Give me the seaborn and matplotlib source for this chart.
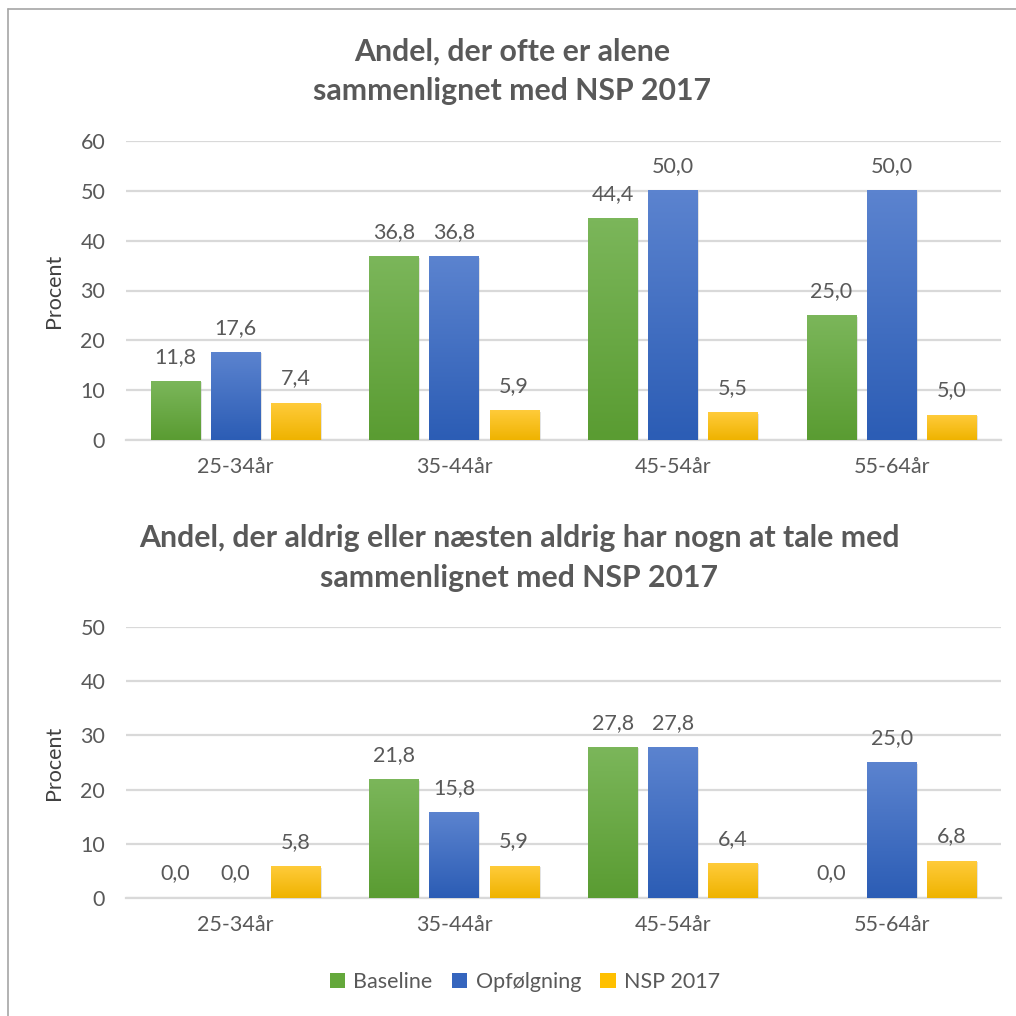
import numpy as np
import pandas as pd
import matplotlib
matplotlib.use("Agg")
import matplotlib.pyplot as plt
import matplotlib.patheffects as pe
from matplotlib.colors import LinearSegmentedColormap
from matplotlib.lines import Line2D
from matplotlib.patches import Patch
import seaborn as sns

# Age groups and series
age_groups = ["25-34år", "35-44år", "45-54år", "55-64år"]
series_names = ["Baseline", "Opfølgning", "NSP 2017"]

# Share who are often alone (%)
alone_baseline = [11.8, 36.8, 44.4, 25.0]
alone_followup = [17.6, 36.8, 50.0, 50.0]
alone_nsp = [7.4, 5.9, 5.5, 5.0]

# Share who never or almost never have someone to talk to (%)
talk_baseline = [0.0, 21.8, 27.8, 0.0]
talk_followup = [0.0, 15.8, 27.8, 25.0]
talk_nsp = [5.8, 5.9, 6.4, 6.8]

top_title = "Andel, der ofte er alene\nsammenlignet med NSP 2017"
bottom_title = "Andel, der aldrig eller næsten aldrig har nogn at tale med\nsammenlignet med NSP 2017"

base_colors = ["#64a83b", "#3565be", "#ffc000"]
grad_top = ["#7bb65a", "#5b83cf", "#ffcb3a"]
grad_bottom = ["#5a9c32", "#2c5db5", "#efb300"]
text_grey = "#595959"
grid_grey = "#d9d9d9"

sns.set_theme(style="white")
plt.rcParams["font.family"] = ["Lato", "DejaVu Sans"]


def long_frame(b, f, n):
    rows = []
    for name, vals in zip(series_names, [b, f, n]):
        for cat, v in zip(age_groups, vals):
            rows.append({"Alder": cat, "Gruppe": name, "Procent": v})
    return pd.DataFrame(rows)


def fmt(v):
    return f"{v:.1f}".replace(".", ",")


def draw_panel(ax, df, ymax, step):
    sns.barplot(data=df, x="Alder", y="Procent", hue="Gruppe",
                hue_order=series_names, palette=base_colors,
                width=0.824, gap=0.18, legend=False, ax=ax, zorder=3,
                linewidth=0, edgecolor="none")
    for i, cont in enumerate(ax.containers):
        cmap = LinearSegmentedColormap.from_list(
            f"g{i}", [grad_bottom[i], grad_top[i]])
        grad = np.linspace(0, 1, 64).reshape(-1, 1)
        for bar in cont:
            x0, w, h = bar.get_x(), bar.get_width(), bar.get_height()
            if h > 0:
                bar.set_path_effects([pe.SimplePatchShadow(offset=(1.2, -0.8),
                                                           shadow_rgbFace="#b0b0b0",
                                                           alpha=0.35),
                                      pe.Normal()])
                ax.imshow(grad, extent=[x0, x0 + w, 0, h], origin="lower",
                          cmap=cmap, aspect="auto", zorder=4,
                          interpolation="bilinear")
        ax.bar_label(cont, labels=[fmt(b.get_height()) for b in cont],
                     padding=10.5, color=text_grey, fontsize=15.5, zorder=5)
    ax.set_xlim(-0.5, 3.5)
    ax.set_ylim(0, ymax)
    ax.set_yticks(np.arange(0, ymax + 0.1, step))
    ax.yaxis.grid(True, color=grid_grey, linewidth=1.6, zorder=0)
    ax.set_axisbelow(True)
    for s in ["top", "right", "left"]:
        ax.spines[s].set_visible(False)
    ax.spines["bottom"].set_color(grid_grey)
    ax.spines["bottom"].set_linewidth(1.6)
    ax.tick_params(axis="both", length=0, colors=text_grey, labelsize=15.5)
    ax.tick_params(axis="y", pad=15)
    ax.tick_params(axis="x", pad=12)
    ax.set_xlabel("")
    ax.set_ylabel("Procent", color="#404040", fontsize=15.5, labelpad=12)


fig = plt.figure(figsize=(10.16, 10.16), dpi=100)
W = 1016.0

ax1 = fig.add_axes([126 / W, 1 - 440 / W, (1001 - 126) / W, (440 - 141) / W])
draw_panel(ax1, long_frame(alone_baseline, alone_followup, alone_nsp), 60, 10)

ax2 = fig.add_axes([126 / W, 1 - 898 / W, (1001 - 126) / W, (898 - 627) / W])
draw_panel(ax2, long_frame(talk_baseline, talk_followup, talk_nsp), 50, 10)

fig.text(512 / W, 1 - 71 / W, top_title, ha="center", va="center",
         fontsize=21.8, fontweight="bold", color=text_grey, linespacing=1.5)
fig.text(519 / W, 1 - 558 / W, bottom_title, ha="center", va="center",
         fontsize=21.8, fontweight="bold", color=text_grey, linespacing=1.5)

handles = [Patch(facecolor=c, edgecolor="none") for c in base_colors]
fig.legend(handles, series_names, loc="center", bbox_to_anchor=(525 / W, 1 - 982 / W),
           ncol=3, frameon=False, fontsize=15.5, labelcolor=text_grey,
           handlelength=0.7, handleheight=0.7, handletextpad=0.4, columnspacing=0.9)

# chart frame
fig.add_artist(Line2D([8 / W, 1.0], [1 - 9 / W, 1 - 9 / W], color="#a6a6a6", lw=1.2))
fig.add_artist(Line2D([8 / W, 8 / W], [1 - 9 / W, 0.0], color="#a6a6a6", lw=1.2))

fig.savefig("out.png", dpi=100, facecolor="white")
